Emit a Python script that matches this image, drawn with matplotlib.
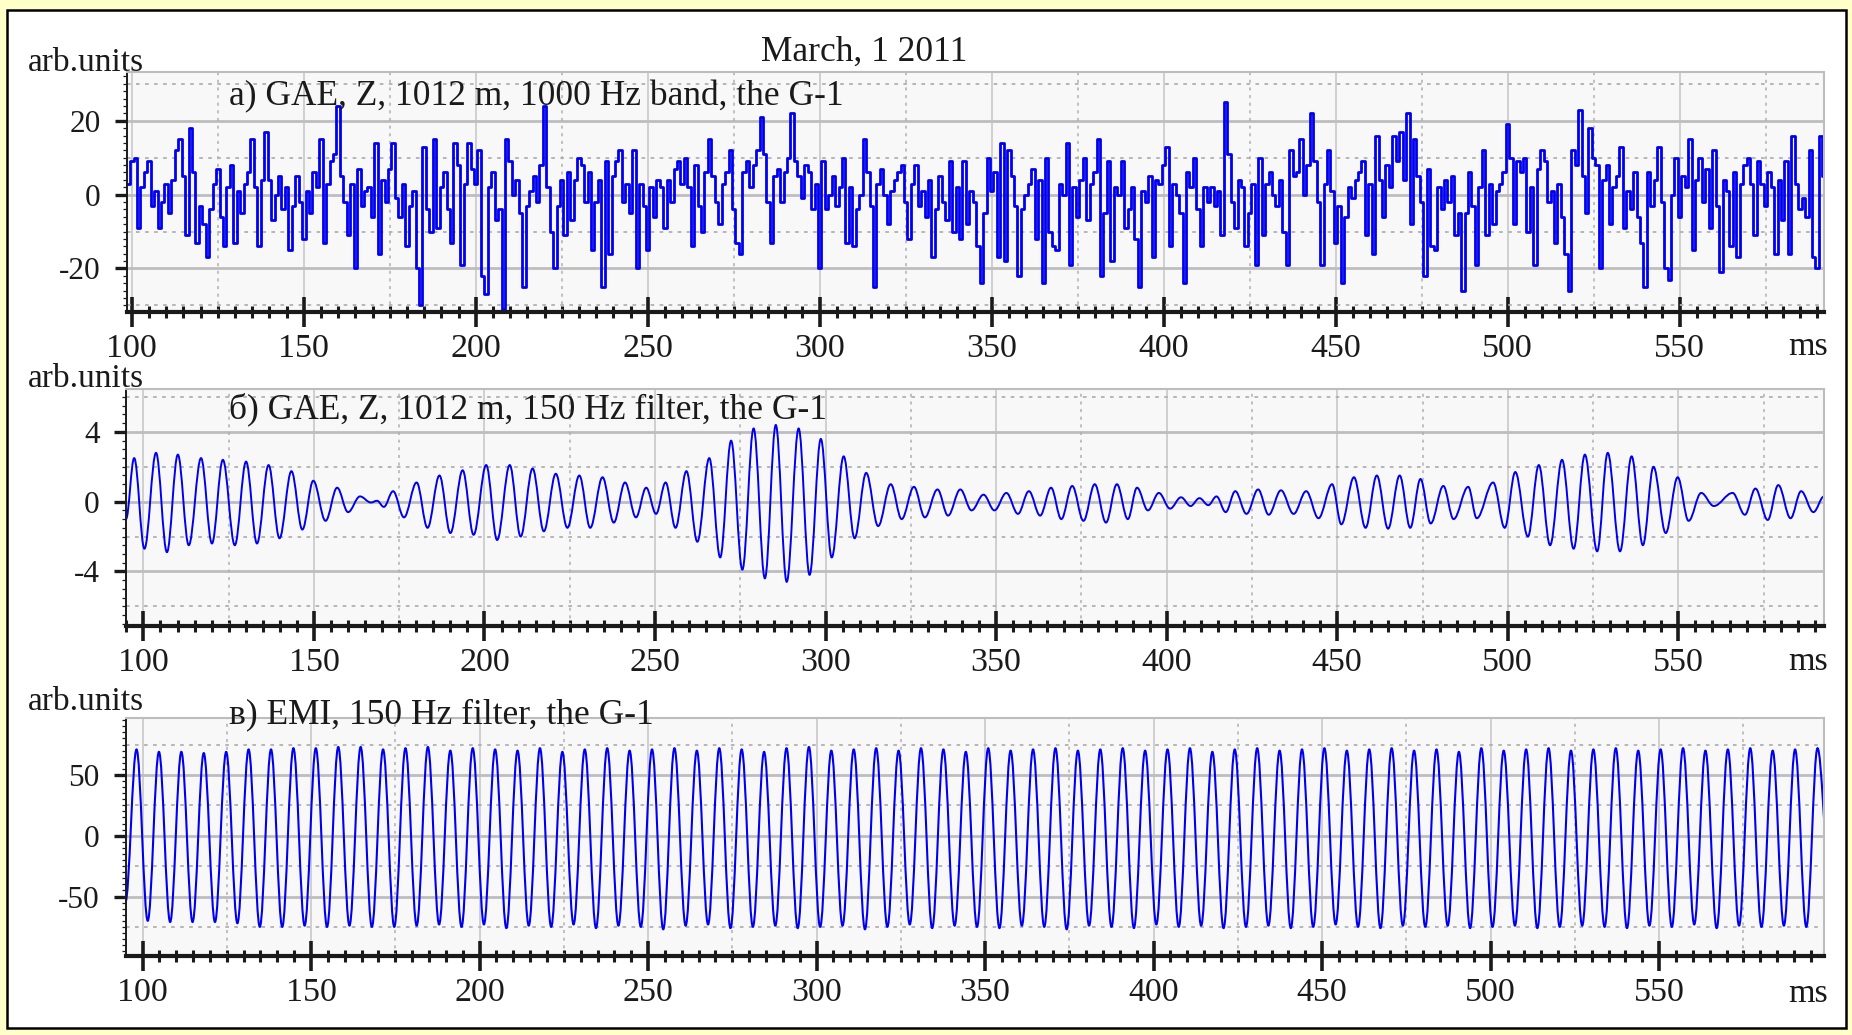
import numpy as np
import matplotlib
matplotlib.use("Agg")
import matplotlib.pyplot as plt
from matplotlib.ticker import MultipleLocator
from matplotlib.patches import Rectangle, PathPatch
from matplotlib.path import Path

# ---------------- data ----------------
title = "March, 1 2011"
panel_titles = ["a) GAE, Z, 1012 m, 1000 Hz band, the G-1",
                "б) GAE, Z, 1012 m, 150 Hz filter, the G-1",
                "в) EMI, 150 Hz filter, the G-1"]
y_label = "arb.units"
x_unit = "ms"

# panel a: 1000 Hz band signal, one reading per ms starting at 99 ms
a_start = 99.0
a_step = 1.0
a_values = [
    3, 9, 10, -9, 2, 6, 9, -3, 1, -9,
    -2, 3, -5, 4, 12, 15, 5, -11, 18, 6,
    -13, -3, -8, -17, -4, 3, 7, -6, -14, 2,
    8, -13, 1, -5, 3, 6, 15, 2, -14, 4,
    17, 4, -7, 0, 5, -4, 2, -15, -3, 5,
    -2, -12, 1, -5, 6, 2, 15, -13, 3, 9,
    11, 24, 5, -2, -11, 3, -20, 7, -3, 1,
    2, -6, 14, -16, 4, -2, 7, 14, -1, -6,
    3, -14, -3, 1, -20, -30, 13, -4, -10, 15,
    -9, 2, 6, -4, -13, 14, 8, -19, 3, 14,
    7, 3, 12, -22, -27, 2, 6, -7, -4, -31,
    15, 9, 0, 4, -5, -25, -3, 1, 5, -2,
    8, 24, 2, -10, -20, -3, 4, -11, 6, -7,
    4, 10, 8, -2, 6, -15, -2, 4, -25, 9,
    -16, 5, 9, 12, -2, 3, -5, 12, -20, 3,
    -3, -15, 2, -6, 4, 2, -9, 4, -2, 7,
    9, 3, 10, 2, -14, 8, -3, -10, 6, 15,
    5, -2, -8, 3, 6, 12, -4, -13, -16, 6,
    9, 2, 8, 12, 21, 11, -2, -13, 5, 7,
    -2, 6, 10, 22, 9, 5, -1, 8, 6, -4,
    3, -20, 9, -4, 0, 5, -3, 2, 10, -13,
    2, -14, -4, 0, 15, 6, -3, -25, 3, 7,
    0, -8, 1, 4, 6, 8, -2, -12, 3, 8,
    -3, 1, -6, 4, -17, -4, 5, -2, -7, 9,
    -10, 2, -12, 9, -8, 1, -2, -14, -24, -5,
    10, 1, 6, -17, 14, -18, 12, 5, -3, -22,
    -4, 0, 3, 7, -12, 4, -24, 10, -10, -14,
    -15, 3, 0, 14, -19, 2, -6, 4, 10, -7,
    3, 6, 15, -22, -5, 9, -18, 2, 0, 9,
    -9, -4, 2, -12, -25, 1, -2, 5, -17, 4,
    3, 8, 13, -14, 3, 0, -5, -24, 6, 2,
    10, -4, -14, 2, -2, 2, -3, 1, -11, 25,
    11, -2, -9, 4, 2, -14, -5, 3, -19, 10,
    -11, 3, 6, 0, -3, 4, -10, -19, 12, 5,
    6, 15, 0, 8, 22, 9, -2, -19, 3, 12,
    1, -13, -3, -24, -6, 2, -1, 4, 6, 9,
    -11, 3, -16, 16, 4, -6, 8, 2, 16, 9,
    17, 4, 22, -8, 15, 5, -2, -22, 7, -14,
    -15, 2, -4, 4, -2, 5, -11, -5, -26, -5,
    6, -3, -19, 2, 12, -11, 3, -8, 1, 3,
    6, 19, 10, -8, 9, 6, 10, -10, 2, -19,
    7, 12, 9, -2, 1, -13, 3, -6, -16, -26,
    12, 8, 23, 5, -5, 18, 10, 8, -20, 4,
    8, -8, 2, 5, 13, -9, 1, -4, 6, -6,
    -13, -25, 6, -3, 4, 13, -2, -20, -23, 0,
    10, -6, 5, 2, 15, -15, 4, 10, -2, 7,
    -9, 12, -3, -21, 4, 1, -14, 6, -17, 3,
    8, 10, 3, -11, 9, 3, -3, 6, 2, -16,
    4, -7, 9, -16, 16, 3, -4, -1, -6, 12,
    -17, -20, 16, 5,
]

# panel b: 150 Hz filtered GAE, times (ms) and values of the extremes
b_times = [
    94.9, 97.3, 100.3, 103.7, 106.9, 110.1, 113.3, 116.9, 120.1, 123.3,
    126.8, 130.1, 133.3, 136.7, 139.9, 143.4, 146.6, 149.8, 153.4, 156.8,
    160.0, 163.5, 166.7, 168.5, 170.5, 173.2, 176.4, 180.1, 183.3, 186.8,
    190.0, 193.6, 196.8, 200.5, 203.7, 207.4, 210.6, 214.1, 217.4, 220.9,
    224.3, 227.8, 231.0, 234.6, 237.9, 241.2, 244.4, 247.4, 250.3, 253.1,
    256.0, 259.2, 262.4, 265.9, 269.1, 272.3, 275.6, 278.9, 282.2, 285.4,
    288.6, 292.1, 295.3, 298.6, 301.8, 305.3, 308.5, 311.9, 315.4, 319.1,
    322.3, 325.9, 329.1, 332.8, 335.9, 339.5, 342.8, 346.3, 349.5, 353.0,
    356.4, 359.6, 362.9, 366.1, 369.1, 372.3, 375.6, 378.9, 382.2, 385.4,
    388.6, 391.3, 394.5, 397.7, 401.0, 404.2, 407.0, 409.6, 412.2, 414.6,
    417.3, 420.1, 423.4, 426.8, 429.9, 433.5, 437.2, 440.9, 444.5, 448.5,
    451.2, 454.9, 458.3, 461.6, 464.9, 468.3, 471.4, 474.4, 477.4, 481.1,
    484.1, 488.4, 490.9, 495.7, 499.1, 502.2, 505.9, 509.1, 512.4, 515.9,
    519.3, 522.6, 526.2, 529.3, 532.9, 536.3, 539.6, 542.7, 546.3, 549.8,
    553.0, 556.7, 560.4, 565.9, 569.5, 572.6, 576.2, 579.3, 582.9, 586.0,
    589.6, 592.7,
]
b_values = [
    -1.0, 2.5, -2.7, 2.8, -2.9, 2.7, -2.5, 2.5, -2.4, 2.4,
    -2.5, 2.3, -2.4, 2.1, -2.1, 1.75, -1.6, 1.2, -1.1, 0.8,
    -0.6, 0.3, -0.05, 0.05, -0.3, 0.6, -0.9, 1.1, -1.5, 1.5,
    -1.8, 1.8, -1.9, 2.1, -2.2, 2.1, -2.0, 1.9, -1.7, 1.6,
    -1.5, 1.5, -1.5, 1.4, -1.2, 1.1, -0.9, 0.8, -0.7, 1.1,
    -1.5, 1.75, -2.3, 2.5, -3.2, 3.5, -3.9, 4.2, -4.4, 4.4,
    -4.6, 4.2, -4.2, 3.6, -3.2, 2.6, -2.1, 1.65, -1.4, 1.0,
    -1.0, 0.85, -0.9, 0.7, -0.8, 0.7, -0.5, 0.4, -0.5, 0.5,
    -0.7, 0.6, -0.8, 0.8, -1.0, 0.9, -1.1, 1.0, -1.2, 1.0,
    -1.0, 0.8, -0.5, 0.5, -0.4, 0.25, -0.25, 0.2, -0.2, 0.3,
    -0.6, 0.6, -0.7, 0.7, -0.75, 0.65, -0.7, 0.6, -0.95, 1.0,
    -1.3, 1.4, -1.5, 1.5, -1.55, 1.5, -1.5, 1.3, -1.25, 0.9,
    -1.0, 0.85, -0.95, 1.1, -1.5, 1.7, -2.0, 2.1, -2.5, 2.4,
    -2.7, 2.7, -2.85, 2.8, -2.85, 2.6, -2.5, 2.0, -1.8, 1.4,
    -1.1, 0.5, -0.25, 0.5, -0.75, 0.75, -1.05, 0.95, -0.95, 0.6,
    -0.6, 0.3,
]

# panel c: 150 Hz filtered EMI, extremes every half period starting at 94.9 ms
c_start = 94.9
c_half_period = 3.325
c_values = [
    -55, 71, -70, 69, -71, 69, -71, 68, -71, 69,
    -72, 71, -75, 71, -75, 72, -74, 72, -75, 73,
    -74, 73, -75, 71, -75, 72, -74, 73, -73, 70,
    -75, 72, -73, 71, -76, 70, -74, 72, -75, 69,
    -73, 71, -76, 72, -74, 70, -75, 71, -77, 72,
    -74, 70, -73, 72, -76, 71, -75, 69, -74, 72,
    -76, 73, -75, 70, -74, 71, -77, 72, -75, 70,
    -73, 72, -76, 71, -74, 69, -75, 72, -76, 70,
    -74, 71, -75, 72, -77, 70, -74, 71, -75, 72,
    -76, 70, -73, 71, -75, 72, -74, 69, -76, 71,
    -75, 72, -74, 70, -76, 71, -75, 72, -73, 70,
    -75, 71, -76, 72, -74, 70, -75, 71, -74, 69,
    -76, 72, -75, 70, -74, 71, -76, 72, -75, 70,
    -74, 71, -75, 72, -76, 70, -74, 71, -75, 72,
    -73, 70, -76, 71, -74, 72, -75, 70, -74, 71,
    -75, 72, -20,
]

# ---------------- figure ----------------
W, H, DPI = 1852, 1035, 100
plt.rcParams['font.family'] = ['Liberation Serif', 'DejaVu Serif']
plt.rcParams['axes.unicode_minus'] = False

BLUE = '#0000EE'
INK = '#1A1A1A'

fig = plt.figure(figsize=(W / DPI, H / DPI), dpi=DPI, facecolor='#FFFFC8')
fig.add_artist(Rectangle((7 / W, 1 - 1028 / H), (1846 - 7) / W, (1028 - 10) / H,
                         transform=fig.transFigure, facecolor='white',
                         edgecolor='black', lw=1.8, zorder=-10))


def fx(px):
    return px / W


def fy(py):
    return 1 - py / H


def add_ax(l, t, r, b):
    return fig.add_axes([fx(l), fy(b), (r - l) / W, (b - t) / H])


def style(ax, xlim, ylim, ystep, yminor):
    ax.set_xlim(*xlim)
    ax.set_ylim(*ylim)
    ax.set_facecolor('#F8F8F8')
    for s in ('top', 'right'):
        ax.spines[s].set_color('#BDBDBD')
        ax.spines[s].set_linewidth(1.5)
    ax.spines['left'].set_color(INK)
    ax.spines['left'].set_linewidth(1.4)
    ax.spines['bottom'].set_color(INK)
    ax.spines['bottom'].set_linewidth(3.0)
    ax.xaxis.set_major_locator(MultipleLocator(50))
    ax.xaxis.set_minor_locator(MultipleLocator(5))
    ax.yaxis.set_major_locator(MultipleLocator(ystep))
    ax.yaxis.set_minor_locator(MultipleLocator(yminor))
    ax.tick_params(axis='x', which='major', direction='inout', length=21,
                   width=2.6, pad=5, labelsize=24.5, color=INK, labelcolor=INK)
    ax.tick_params(axis='x', which='minor', direction='inout', length=8,
                   width=2.2, color=INK)
    ax.tick_params(axis='y', which='major', direction='out', length=9,
                   width=2.4, pad=10, labelsize=22.5, color=INK, labelcolor=INK)
    ax.tick_params(axis='y', which='minor', direction='out', length=3,
                   width=0.9, color=INK)
    ax.set_axisbelow(True)
    ax.xaxis.grid(True, which='major', color='#C8C8C8', lw=1.2)
    ax.yaxis.grid(True, which='major', color='#BDBDBD', lw=2.0)
    # dotted half-step grid lines
    k0 = np.ceil((xlim[0] - 25) / 50)
    xs = np.arange(k0, k0 + 15) * 50 + 25
    for x in xs[(xs > xlim[0]) & (xs < xlim[1])]:
        ax.axvline(x, color='#B0B0B0', lw=1.1, ls=(0, (2, 3)), zorder=0.6)
    k0 = np.ceil((ylim[0] - ystep / 2) / ystep)
    ys = np.arange(k0, k0 + 10) * ystep + ystep / 2
    for y in ys[(ys > ylim[0]) & (ys < ylim[1])]:
        ax.axhline(y, color='#B0B0B0', lw=1.3, ls=(0, (2, 3)), zorder=0.6)


def smooth_wave(ax, t, v, **kw):
    """Draw the series as a smooth curve through its extremes (cubic Bezier
    segments with horizontal tangents at every data point)."""
    t = np.asarray(t, float)
    v = np.asarray(v, float)
    verts = [(t[0], v[0])]
    codes = [Path.MOVETO]
    for i in range(len(t) - 1):
        d = 0.3634 * (t[i + 1] - t[i])
        verts += [(t[i] + d, v[i]), (t[i + 1] - d, v[i + 1]), (t[i + 1], v[i + 1])]
        codes += [Path.CURVE4] * 3
    ax.add_patch(PathPatch(Path(verts, codes), fill=False, capstyle='round',
                           joinstyle='round', zorder=2, **kw))


panels = [
    dict(box=(127, 72, 1824, 312), xlim=(98.6, 592.0), ylim=(-31.8, 33.2),
         ystep=20, yminor=2, arb=70.7, ttl=105, ms=355),
    dict(box=(126, 389, 1824, 626), xlim=(94.9, 592.7), ylim=(-7.13, 6.46),
         ystep=4, yminor=0.5, arb=386.7, ttl=418, ms=670),
    dict(box=(126, 718, 1824, 956), xlim=(95.1, 598.9), ylim=(-98.9, 96.8),
         ystep=50, yminor=5, arb=710, ttl=723, ms=1002),
]

axes = []
for p in panels:
    ax = add_ax(*p['box'])
    style(ax, p['xlim'], p['ylim'], p['ystep'], p['yminor'])
    axes.append(ax)

a_t = a_start + a_step * np.arange(len(a_values))
axes[0].plot(a_t, a_values, color=BLUE, lw=2.0, drawstyle='steps-mid', zorder=2)

smooth_wave(axes[1], b_times, b_values, edgecolor=BLUE, lw=1.4)

c_t = c_start + c_half_period * np.arange(len(c_values))
smooth_wave(axes[2], c_t, c_values, edgecolor=BLUE, lw=1.5)

fig.text(fx(864), fy(61), title, ha='center', va='baseline', fontsize=25.5, color=INK)
for p, t in zip(panels, panel_titles):
    fig.text(fx(28), fy(p['arb']), y_label, ha='left', va='baseline',
             fontsize=24, color=INK)
    fig.text(fx(229), fy(p['ttl']), t, ha='left', va='baseline',
             fontsize=25.5, color=INK)
    fig.text(fx(1828), fy(p['ms']), x_unit, ha='right', va='baseline',
             fontsize=24.5, color=INK)

fig.savefig('out.png', dpi=DPI, facecolor=fig.get_facecolor())
